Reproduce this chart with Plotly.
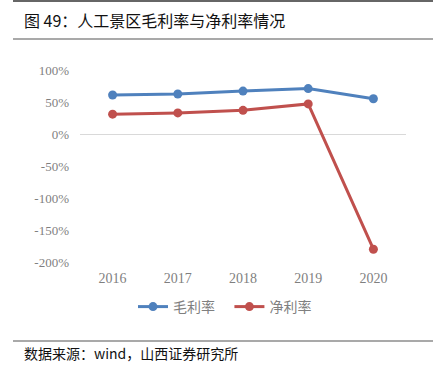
import plotly.graph_objects as go

years = ["2016", "2017", "2018", "2019", "2020"]
gross_margin = [61, 62.5, 67, 71, 55]
net_margin = [31, 33, 37, 47, -180]
y_ticks = [100, 50, 0, -50, -100, -150, -200]
y_tick_labels = ["100%", "50%", "0%", "-50%", "-100%", "-150%", "-200%"]

W, H = 439, 366
L, R, T, B = 80, 33, 70, 104
pw, ph = W - L - R, H - T - B

def px(x):
    return (x - L) / pw

def py(y):
    return (H - B - y) / ph

fig = go.Figure()
fig.add_trace(go.Scatter(x=years, y=gross_margin, name="毛利率&nbsp;&nbsp;&nbsp;", mode="lines+markers",
                         line=dict(color="#4F81BD", width=3),
                         marker=dict(size=9, color="#4F81BD")))
fig.add_trace(go.Scatter(x=years, y=net_margin, name="净利率", mode="lines+markers",
                         line=dict(color="#C0504D", width=3),
                         marker=dict(size=9, color="#C0504D")))

serif = "Liberation Serif, Times New Roman, serif"
fig.update_layout(
    width=W, height=H,
    margin=dict(l=L, r=R, t=T, b=B, autoexpand=False),
    plot_bgcolor="white", paper_bgcolor="white",
    showlegend=True,
    legend=dict(orientation="h", x=px(225), xanchor="center",
                y=py(307), yanchor="middle",
                font=dict(family="Noto Sans CJK SC", size=14, color="#7f7f7f"),
                itemwidth=30, tracegroupgap=0),
    xaxis=dict(type="category", range=[-0.5, 4.5], showgrid=False, zeroline=False, showline=False,
               ticks="", tickfont=dict(family=serif, size=14, color="#7f7f7f"),
               ticklabelstandoff=6, automargin=False),
    yaxis=dict(range=[-200, 100], tickvals=y_ticks, ticktext=y_tick_labels,
               showgrid=False, zeroline=True, zerolinecolor="#d9d9d9", zerolinewidth=1,
               showline=False, ticks="", tickfont=dict(family=serif, size=13, color="#7f7f7f"),
               ticklabelstandoff=10, automargin=False),
    shapes=[
        dict(type="line", xref="paper", yref="paper", x0=px(13), x1=px(433), y0=py(1), y1=py(1),
             line=dict(color="#333333", width=1.5)),
        dict(type="line", xref="paper", yref="paper", x0=px(13), x1=px(433), y0=py(39), y1=py(39),
             line=dict(color="#555555", width=1.2)),
        dict(type="line", xref="paper", yref="paper", x0=px(13), x1=px(433), y0=py(341), y1=py(341),
             line=dict(color="#555555", width=1.2)),
    ],
    annotations=[
        dict(text="图 49：人工景区毛利率与净利率情况", xref="paper", yref="paper",
             x=px(22), y=py(20), xanchor="left", yanchor="middle", showarrow=False,
             font=dict(family="Noto Sans CJK SC", size=16, color="#111111")),
        dict(text="数据来源：wind，山西证券研究所", xref="paper", yref="paper",
             x=px(22), y=py(353), xanchor="left", yanchor="middle", showarrow=False,
             font=dict(family="Noto Sans CJK SC", size=14, color="#111111")),
    ],
)

fig.write_html("out.html", config={"displayModeBar": False},
               post_script="document.body.style.margin='0';document.body.style.overflow='hidden';")
